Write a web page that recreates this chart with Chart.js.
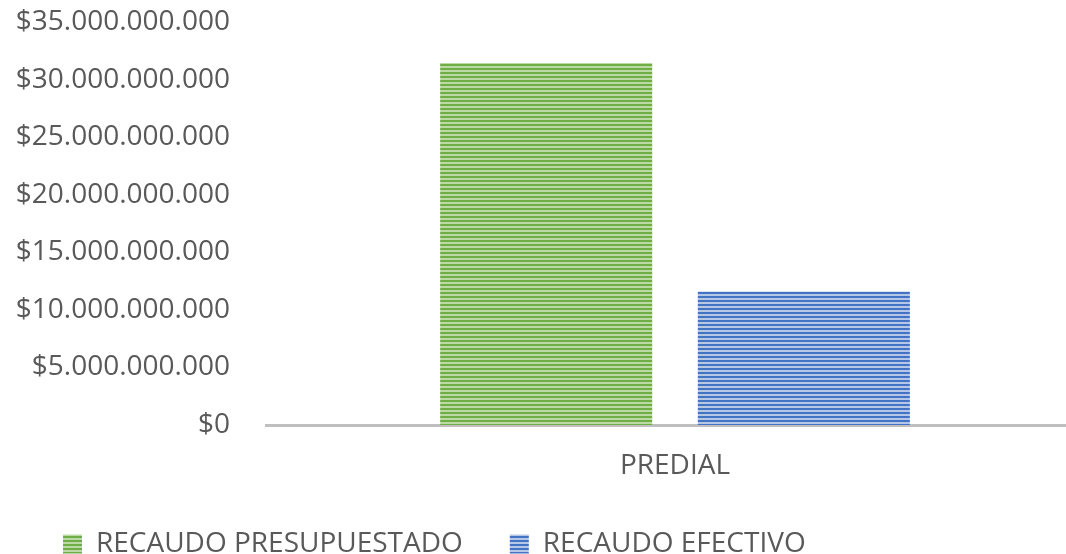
<!DOCTYPE html>
<html>
<head>
<meta charset="utf-8">
<script src="https://cdn.jsdelivr.net/npm/chart.js@4/dist/chart.umd.min.js"></script>
<style>
  html, body { margin: 0; padding: 0; background: #fff; overflow: hidden; }
  #wrap { width: 1066px; height: 554px; overflow: hidden; position: relative; }
  #box { width: 1090px; height: 554px; position: absolute; left: 0; top: 0; }
</style>
</head>
<body>
<div id="wrap"><div id="box"><canvas id="recaudoChart"></canvas></div></div>
<script>
// data
const categories = ['PREDIAL'];
const seriesNames = ['RECAUDO PRESUPUESTADO', 'RECAUDO EFECTIVO'];
const presupuestado = [31450000000];
const efectivo = [11600000000];
const yTicks = [0, 5e9, 10e9, 15e9, 20e9, 25e9, 30e9, 35e9];

function stripes(dark, light) {
  const c = document.createElement('canvas');
  c.width = 4;
  c.height = 4;
  const g = c.getContext('2d');
  g.fillStyle = light;
  g.fillRect(0, 0, 4, 4);
  g.fillStyle = dark;
  g.fillRect(0, 0, 4, 2);
  return g.createPattern(c, 'repeat');
}

function money(v) {
  return '$' + String(Math.round(v)).replace(/\B(?=(\d{3})+(?!\d))/g, '.');
}

document.addEventListener('DOMContentLoaded', () => {
  const font = { family: "'Open Sans', sans-serif", size: 28 };
  const ctx = document.getElementById('recaudoChart').getContext('2d');
  new Chart(ctx, {
    type: 'bar',
    data: {
      labels: categories,
      datasets: [{
        label: seriesNames[0],
        data: presupuestado,
        backgroundColor: stripes('#70AD47', '#BBDBA5'),
        borderWidth: 0
      }, {
        label: seriesNames[1],
        data: efectivo,
        backgroundColor: stripes('#4472C4', '#B4C7E7'),
        borderWidth: 0
      }]
    },
    options: {
      responsive: true,
      maintainAspectRatio: false,
      animation: false,
      categoryPercentage: 0.63,
      barPercentage: 0.823,
      layout: { padding: { top: 0, left: 16, right: 6, bottom: 0 } },
      scales: {
        y: {
          min: 0,
          max: 35e9,
          afterBuildTicks: axis => { axis.ticks = yTicks.map(v => ({ value: v })); },
          afterFit: axis => {
            axis.width = 250;
            axis.paddingTop = 22;
            axis.paddingBottom = 0;
          },
          grid: { display: false, drawTicks: false },
          border: { display: false },
          ticks: {
            color: '#595959',
            font: font,
            padding: 36,
            callback: v => money(v)
          }
        },
        x: {
          afterFit: axis => { axis.height = 58; },
          grid: { display: false, drawTicks: false },
          border: { display: true, color: '#BFBFBF', width: 3 },
          ticks: { color: '#595959', font: font, padding: 24 }
        }
      },
      plugins: {
        legend: {
          position: 'bottom',
          align: 'start',
          maxHeight: 71,
          labels: {
            color: '#595959',
            font: font,
            boxWidth: 19,
            boxHeight: 19,
            padding: 47
          }
        },
        tooltip: { enabled: false }
      }
    }
  });
});
</script>
</body>
</html>
